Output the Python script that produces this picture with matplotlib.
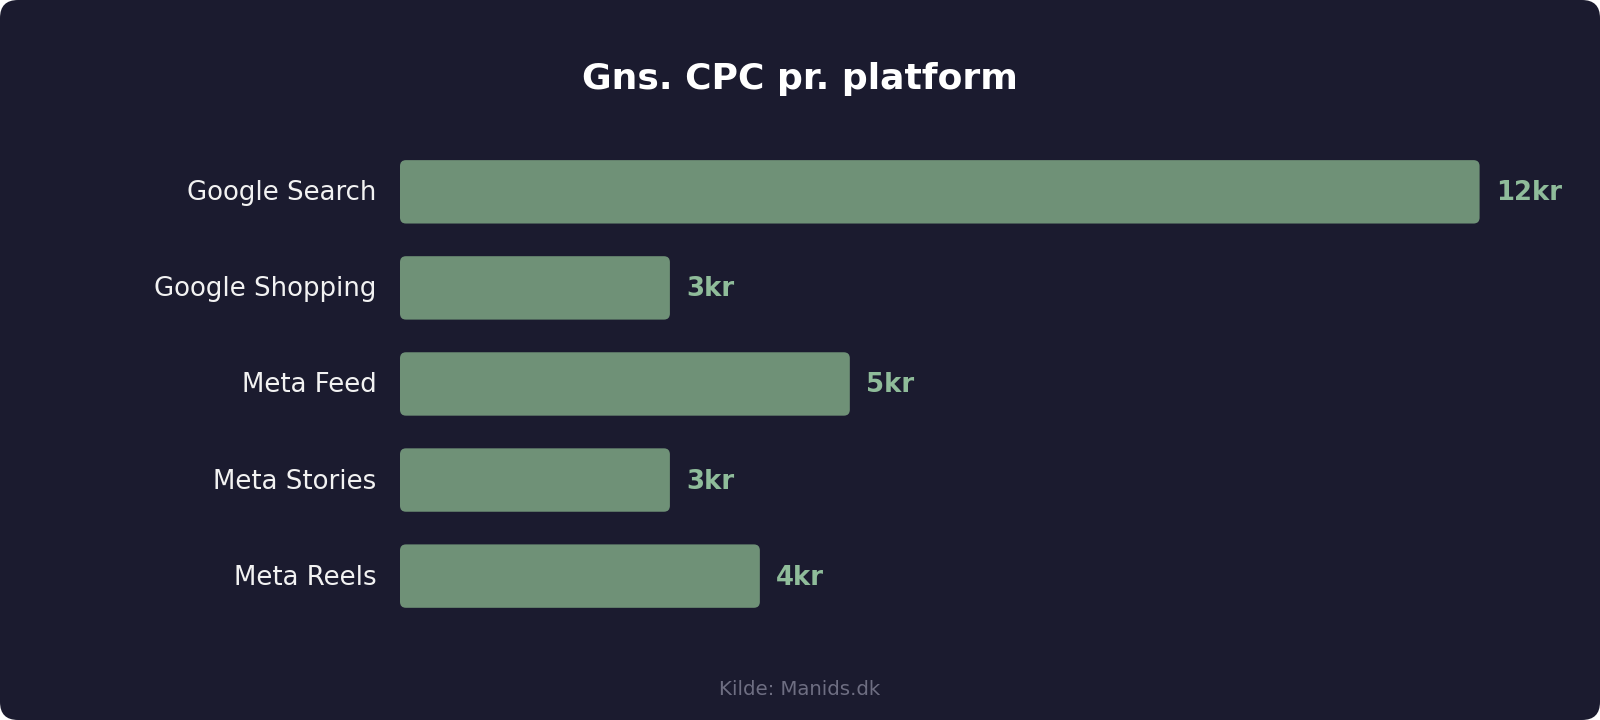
import matplotlib
matplotlib.use("Agg")
import matplotlib.pyplot as plt
from matplotlib.patches import FancyBboxPatch

plt.rcParams["font.family"] = ["DejaVu Sans"]

categories = ["Google Search", "Google Shopping", "Meta Feed", "Meta Stories", "Meta Reels"]
cpc_values = [12, 3, 5, 3, 4]
value_labels = ["12kr", "3kr", "5kr", "3kr", "4kr"]
title = "Gns. CPC pr. platform"
source = "Kilde: Manids.dk"

BG = "#1b1b2f"
BAR = "#6f9177"
VAL = "#8fbc9a"

W, H = 1600, 720
SX, SY = W / 1568, H / 706

fig = plt.figure(figsize=(16, 7.2), dpi=100)
fig.patch.set_facecolor("white")
r = 18
bg = FancyBboxPatch((0, 0), W, H, boxstyle=f"round,pad=0,rounding_size={r}",
                    transform=None, facecolor=BG, edgecolor="none", zorder=-10)
fig.patches.append(bg)

left = 392 * SX / W
right = 1450 * SX / W
top = 1 - 141 * SY / H
bottom = 1 - 612 * SY / H
ax = fig.add_axes([left, bottom, right - left, top - bottom])
ax.set_facecolor("none")
ax.set_xlim(0, 12)
ax.set_ylim(len(categories) - 0.5, -0.5)
for s in ax.spines.values():
    s.set_visible(False)
ax.set_xticks([])
ax.set_yticks([])

bars = ax.barh(range(len(categories)), cpc_values, height=0.66, color=BAR)
px_x = (right - left) * W / 12
px_y = (top - bottom) * H / len(categories)
rad = 6
for b in bars:
    x, y, w, h = b.get_x(), b.get_y(), b.get_width(), b.get_height()
    b.remove()
    p = FancyBboxPatch((x, y), w, h,
                       boxstyle=f"round,pad=0,rounding_size={rad / px_x}",
                       mutation_aspect=(rad / px_y) / (rad / px_x),
                       facecolor=BAR, edgecolor="none")
    ax.add_patch(p)

for i, (cat, v, lab) in enumerate(zip(categories, cpc_values, value_labels)):
    ax.annotate(cat, xy=(0, i), xytext=(-23 * SX, -1.5), textcoords="offset pixels",
                ha="right", va="center", color="#f2f2f2", fontsize=18.7, annotation_clip=False)
    ax.annotate(lab, xy=(v, i), xytext=(16 * SX, -1.5), textcoords="offset pixels",
                ha="left", va="center", color=VAL, fontsize=18.7, fontweight="bold",
                annotation_clip=False)

fig.text(0.5, 1 - 77 * SY / H, title, ha="center", va="center", color="white",
         fontsize=26, fontweight="bold")
fig.text(0.5, 1 - 676 * SY / H, source, ha="center", va="center", color="#6e6e82",
         fontsize=14.2)

fig.savefig("out.png", dpi=100, facecolor=fig.get_facecolor())
